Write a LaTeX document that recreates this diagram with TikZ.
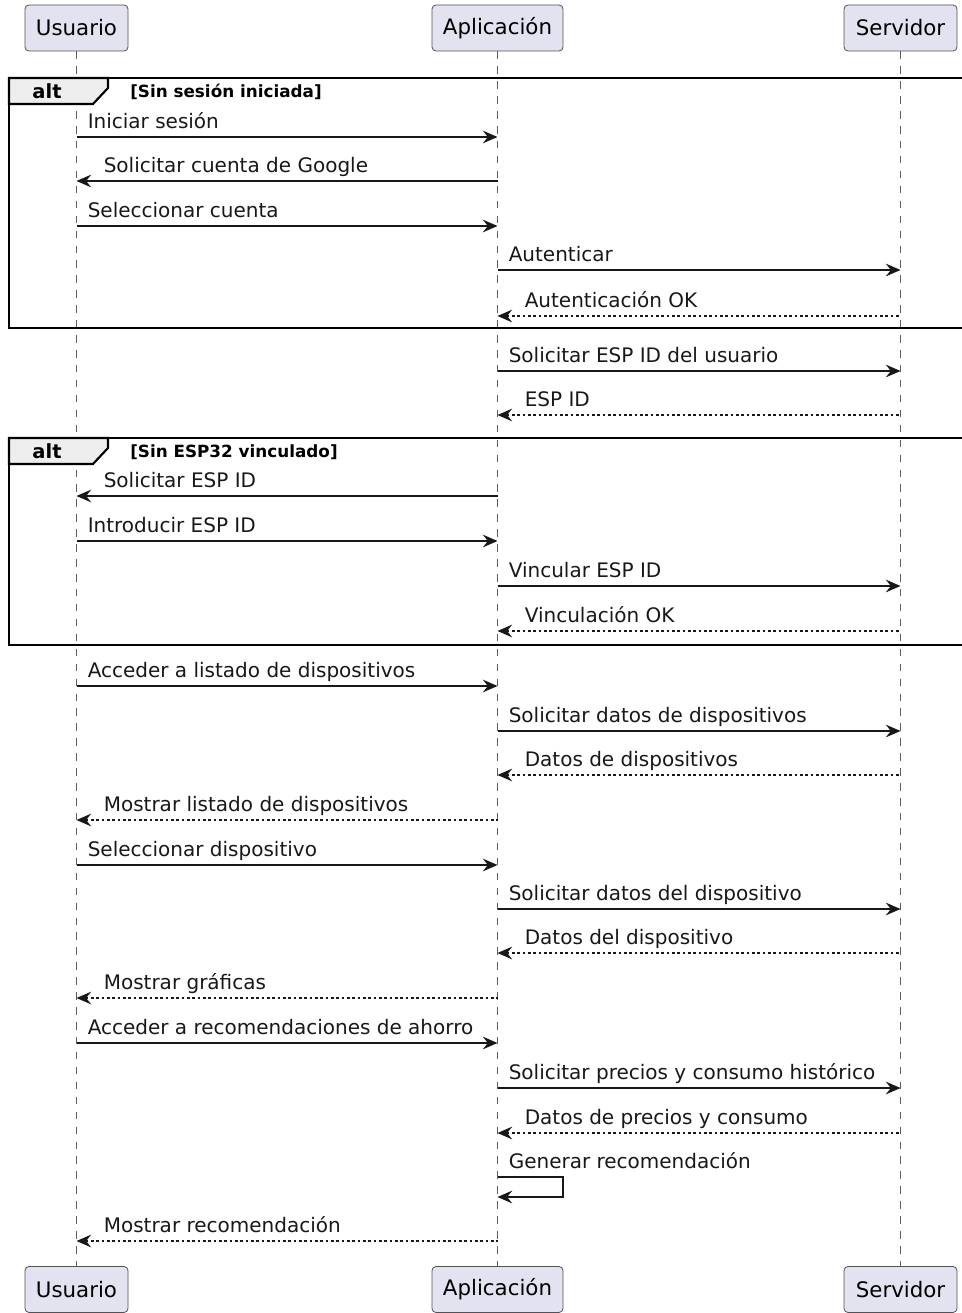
\documentclass[tikz,border=0pt]{standalone}
\usepackage{fontspec}
\setmainfont{DejaVu Sans}
\usetikzlibrary{arrows.meta,calc}
\definecolor{partfill}{HTML}{E2E2F0}
\definecolor{ink}{HTML}{181818}
\definecolor{tabfill}{HTML}{EEEEEE}

% one message: name, left lifeline, right lifeline, y, label, line style, label offset
\newcommand\seqmsg[7]{%
  \draw[#6] (#2 |- 0,#4) -- (#3 |- 0,#4);
  \node[lbl] (#1) at ($(#2 |- 0,#4)+(#7,-9)$) {#5};}

\begin{document}
\begin{tikzpicture}[x=0.75pt,y=-0.75pt,
  part/.style={draw=ink!75, line width=0.6pt, fill=partfill, rounded corners=3pt,
    inner sep=0pt, minimum height=34.5pt,
    font=\fontsize{16pt}{18pt}\selectfont},
  life/.style={draw=ink!70, line width=0.6pt, dash pattern=on 5.6pt off 5.6pt},
  call/.style={draw=ink, line width=1.05pt},
  callR/.style={call, -{Stealth[length=11pt,width=9.5pt,inset=3.8pt]}},
  callL/.style={call, {Stealth[length=11pt,width=9.5pt,inset=3.8pt]}-},
  retL/.style={draw=ink, line width=1.05pt, dash pattern=on 2pt off 2pt,
    {Stealth[length=11pt,width=9.5pt,inset=3.8pt]}-},
  lbl/.style={anchor=base west, inner sep=0pt, text=ink,
    font=\fontsize{15pt}{17pt}\selectfont},
  frame/.style={draw=black, line width=1.6pt},
  tabtxt/.style={inner sep=0pt, font=\bfseries\fontsize{14.6pt}{17pt}\selectfont},
  condtxt/.style={anchor=west, inner sep=0pt, font=\bfseries\fontsize{12.6pt}{14pt}\selectfont}
]
\useasboundingbox (0,0) rectangle (961,1313);

% participants, top and bottom
\node[part, minimum width=77.25pt] (uTop) at (76.5,28) {Usuario};
\node[part, minimum width=98.25pt] (aTop) at (497.5,28) {Aplicación};
\node[part, minimum width=84.75pt] (sTop) at (900.5,28) {Servidor};
\node[part, minimum width=77.25pt] (uBot) at (76.5,1289.5) {Usuario};
\node[part, minimum width=98.25pt] (aBot) at (497.5,1289.5) {Aplicación};
\node[part, minimum width=84.75pt] (sBot) at (900.5,1289.5) {Servidor};

% lifelines
\draw[life] (uTop.south) -- (uBot.north);
\draw[life] (aTop.south) -- (aBot.north);
\draw[life] (sTop.south) -- (sBot.north);

% first alt block
\draw[frame] (9,78) -- (963,78) -- (963,328) -- (9,328) -- cycle;
\draw[frame, fill=tabfill] (9,78) -- (108,78) -- (108,88) -- (93,104) -- (9,104) -- cycle;
\node[tabtxt] (alt1) at (47,91) {alt};
\node[condtxt] (cond1) at (130,92) {[Sin sesión iniciada]};

\seqmsg{m1}{uTop}{aTop}{137}{Iniciar sesión}{callR}{11}
\seqmsg{m2}{uTop}{aTop}{181}{Solicitar cuenta de Google}{callL}{27}
\seqmsg{m3}{uTop}{aTop}{226}{Seleccionar cuenta}{callR}{11}
\seqmsg{m4}{aTop}{sTop}{270}{Autenticar}{callR}{11}
\seqmsg{m5}{aTop}{sTop}{316}{Autenticación OK}{retL}{27}

\seqmsg{m6}{aTop}{sTop}{371}{Solicitar ESP ID del usuario}{callR}{11}
\seqmsg{m7}{aTop}{sTop}{415}{ESP ID}{retL}{27}

% second alt block
\draw[frame] (9,438) -- (963,438) -- (963,645) -- (9,645) -- cycle;
\draw[frame, fill=tabfill] (9,438) -- (108,438) -- (108,448) -- (93,464) -- (9,464) -- cycle;
\node[tabtxt] (alt2) at (47,451) {alt};
\node[condtxt] (cond2) at (130,452) {[Sin ESP32 vinculado]};

\seqmsg{m8}{uTop}{aTop}{496}{Solicitar ESP ID}{callL}{27}
\seqmsg{m9}{uTop}{aTop}{541}{Introducir ESP ID}{callR}{11}
\seqmsg{m10}{aTop}{sTop}{586}{Vincular ESP ID}{callR}{11}
\seqmsg{m11}{aTop}{sTop}{631}{Vinculación OK}{retL}{27}

\seqmsg{m12}{uTop}{aTop}{686}{Acceder a listado de dispositivos}{callR}{11}
\seqmsg{m13}{aTop}{sTop}{731}{Solicitar datos de dispositivos}{callR}{11}
\seqmsg{m14}{aTop}{sTop}{775}{Datos de dispositivos}{retL}{27}
\seqmsg{m15}{uTop}{aTop}{820}{Mostrar listado de dispositivos}{retL}{27}
\seqmsg{m16}{uTop}{aTop}{865}{Seleccionar dispositivo}{callR}{11}
\seqmsg{m17}{aTop}{sTop}{909}{Solicitar datos del dispositivo}{callR}{11}
\seqmsg{m18}{aTop}{sTop}{953}{Datos del dispositivo}{retL}{27}
\seqmsg{m19}{uTop}{aTop}{998}{Mostrar gráficas}{retL}{27}
\seqmsg{m20}{uTop}{aTop}{1043}{Acceder a recomendaciones de ahorro}{callR}{11}
\seqmsg{m21}{aTop}{sTop}{1088}{Solicitar precios y consumo histórico}{callR}{11}
\seqmsg{m22}{aTop}{sTop}{1133}{Datos de precios y consumo}{retL}{27}

% self message on the application lifeline
\coordinate (selfTop) at (563,1177);
\coordinate (selfBot) at (563,1197);
\draw[callR] (aTop |- selfTop) -- (selfTop) -- (selfBot) -- (aTop |- selfBot);
\node[lbl] (m23) at ($(aTop |- selfTop)+(11,-9)$) {Generar recomendación};

\seqmsg{m24}{uTop}{aTop}{1241}{Mostrar recomendación}{retL}{27}
\end{tikzpicture}
\end{document}
